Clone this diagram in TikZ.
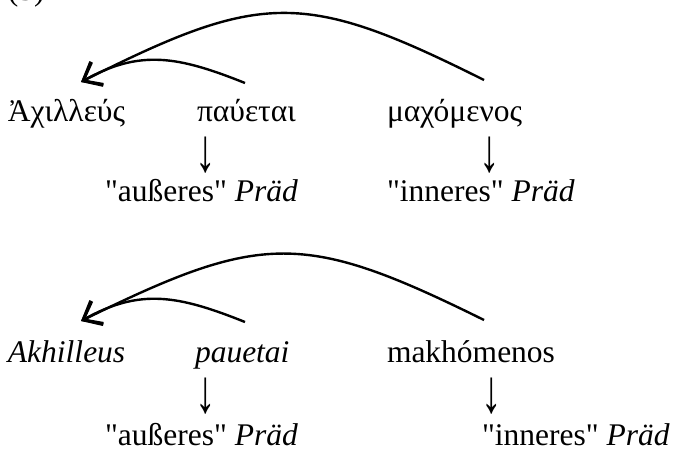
\documentclass[tikz,border=0pt]{standalone}
\usepackage{fontspec}
\setmainfont{Liberation Serif}[Ligatures=TeXOff]
\usetikzlibrary{arrows.meta}
\newcommand{\downarr}{\raisebox{0pt}[\height][0pt]{\scalebox{1.3}[1.95]{↓}}}
\begin{document}
\begin{tikzpicture}[x=1pt,y=-1pt,
  txt/.style={inner sep=0pt,outer sep=0pt,anchor=base west,font=\fontsize{31.5}{36}\selectfont},
  dn/.style={inner sep=0pt,outer sep=0pt,anchor=base,font=\fontsize{31.5}{36}\selectfont},
  arc/.style={line width=2.4pt,-{Straight Barb[length=16pt,width=26pt,line width=3pt]}}]
\useasboundingbox (0,0) rectangle (675,448);
\node[txt] (lab) at (8,0) {(5)};
% row 1
\node[txt] (a1) at (8,121) {Ἀχιλλεύς};
\node[txt] (p1) at (197,121) {παύεται};
\node[txt] (m1) at (387,121) {μαχόμενος};
\node[dn] (d1) at (206,171) {\downarr};
\node[dn] (e1) at (490,171) {\downarr};
\node[txt] (x1) at (105,201) {"außeres" \textit{Präd}};
\node[txt] (y1) at (387,201) {"inneres" \textit{Präd}};
\coordinate (t1) at (81,82);
\coordinate (s1) at (245,83);
\coordinate (l1) at (484,80);
\draw[arc] (s1) .. controls (177.8,56.1) and (139.9,49.2) .. (t1);
\draw[arc] (l1) .. controls (304,-10) and (262,-9) .. (t1);
% row 2
\node[txt] (a2) at (8,362) {\textit{Akhilleus}};
\node[txt] (p2) at (195,362) {\textit{pauetai}};
\node[txt] (m2) at (387,362) {makhómenos};
\node[dn] (d2) at (206,412) {\downarr};
\node[dn] (e2) at (492,412) {\downarr};
\node[txt] (x2) at (105,445) {"außeres" \textit{Präd}};
\node[txt] (y2) at (482,445) {"inneres" \textit{Präd}};
\coordinate (t2) at (81,321);
\coordinate (s2) at (245,322);
\coordinate (l2) at (484,320);
\draw[arc] (s2) .. controls (177.8,295.1) and (139.9,288.2) .. (t2);
\draw[arc] (l2) .. controls (304,231) and (262,232) .. (t2);
\end{tikzpicture}
\end{document}
